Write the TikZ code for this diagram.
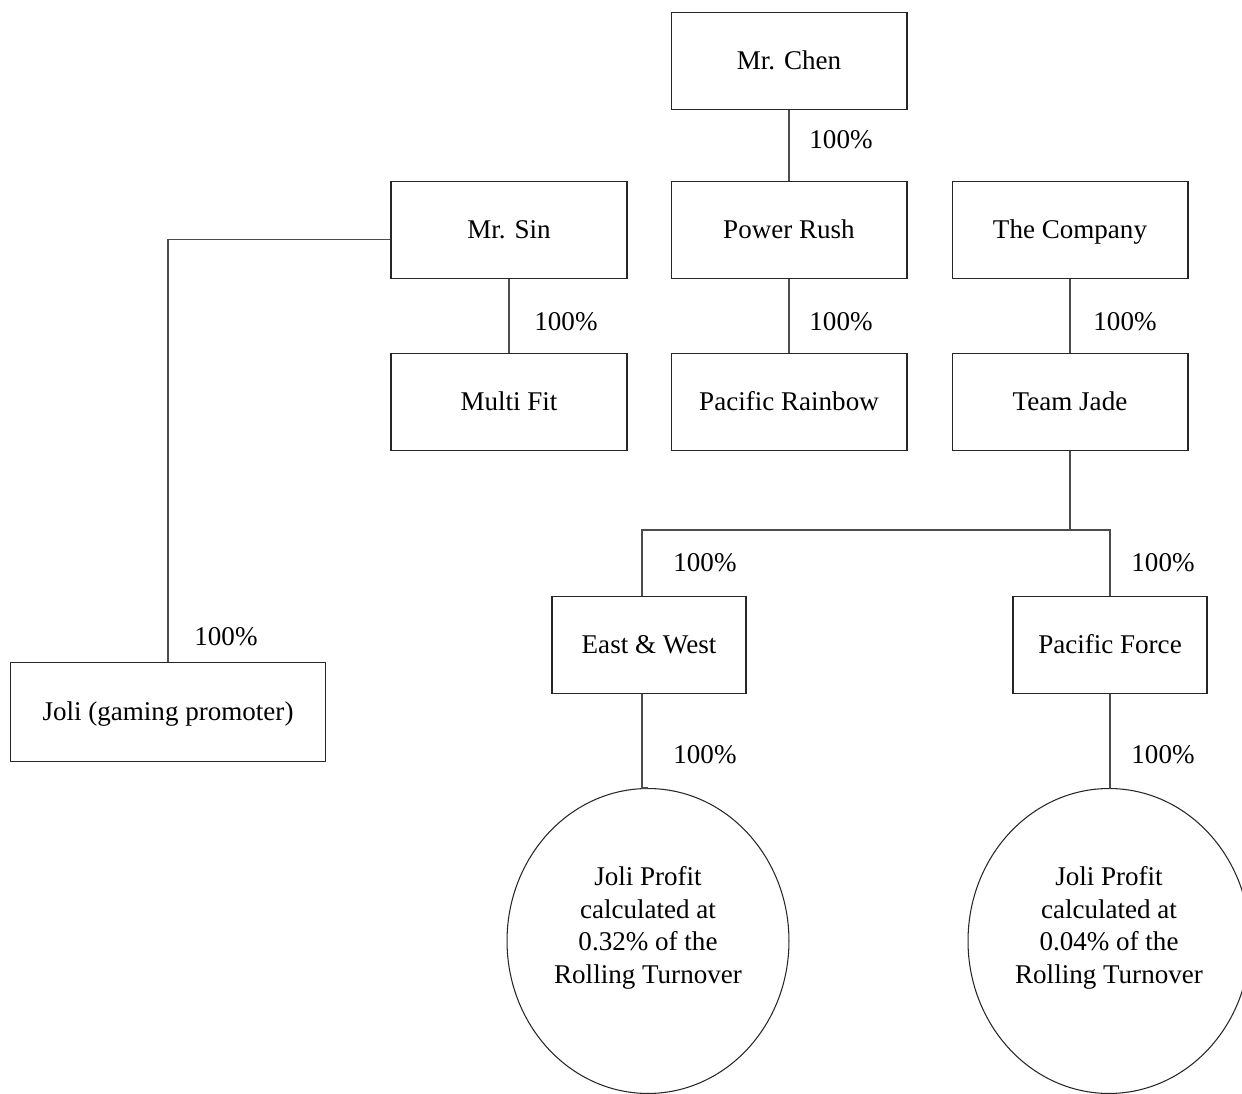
\documentclass[tikz,border=0pt]{standalone}
\usepackage{fontspec}
\setmainfont{Liberation Serif}
\usetikzlibrary{shapes.geometric}

\newcommand{\orgfont}{\fontsize{15.4}{18.5}\selectfont}

\tikzset{
	entity/.style={draw=black!85, line width=.6pt, minimum width=4.72cm, minimum height=1.94cm, inner sep=0pt, text height=9.4pt, text depth=0pt, font=\orgfont},
	profit/.style={draw=black!85, line width=.6pt, ellipse, minimum width=5.64cm, minimum height=6.1cm, inner sep=0pt, align=center, font=\orgfont},
	link/.style={draw=black!70, line width=.6pt},
	share/.style={inner sep=0pt, font=\orgfont}
}

\begin{document}
\begin{tikzpicture}[x=0.02cm,y=-0.02cm]
\useasboundingbox (0,0) rectangle (1242,1094);

%owners and companies
\node[entity] (chen) at (789,61) {Mr. Chen};
\node[entity] (sin) at (509,230) {Mr. Sin};
\node[entity] (rush) at (789,230) {Power Rush};
\node[entity] (company) at (1070,230) {The Company};
\node[entity] (multi) at (509,402) {Multi Fit};
\node[entity] (rainbow) at (789,402) {Pacific Rainbow};
\node[entity] (jade) at (1070,402) {Team Jade};
\node[entity, minimum width=3.88cm] (eastwest) at (649,645) {East \& West};
\node[entity, minimum width=3.88cm] (force) at (1110,645) {Pacific Force};
\node[entity, minimum width=6.32cm, minimum height=1.98cm] (joli) at (168,712) {Joli (gaming promoter)};

%profit circles
\node[profit] (profitew) at (648,941) {Joli Profit\\calculated at\\0.32\% of the\\Rolling Turnover\\[-0.5pt]\mbox{}};
\node[profit] (profitpf) at (1109,941) {Joli Profit\\calculated at\\0.04\% of the\\Rolling Turnover\\[-0.5pt]\mbox{}};

%straight links
\draw[link] (chen) -- (rush);
\draw[link] (sin) -- (multi);
\draw[link] (rush) -- (rainbow);
\draw[link] (company) -- (jade);
\draw[link] ([yshift=-0.19cm]sin.west) -| (joli.north);

%team jade branches
\coordinate (bus) at (1070,530);
\draw[link] (jade) -- (bus);
\draw[link] ([xshift=-0.14cm]eastwest.north) |- (bus) -| (force.north);
\draw[link] ([xshift=-0.14cm]eastwest.south) |- (profitew.north);
\draw[link] (force.south) |- (profitpf.north);

%share labels
\foreach \p [count=\i] in {(841,140),(566,322),(841,322),(1125,322),(705,563),(1163,563),(226,637),(705,755),(1163,755)} {
	\node[share] (share\i) at \p {100\%};
}
\end{tikzpicture}
\end{document}
